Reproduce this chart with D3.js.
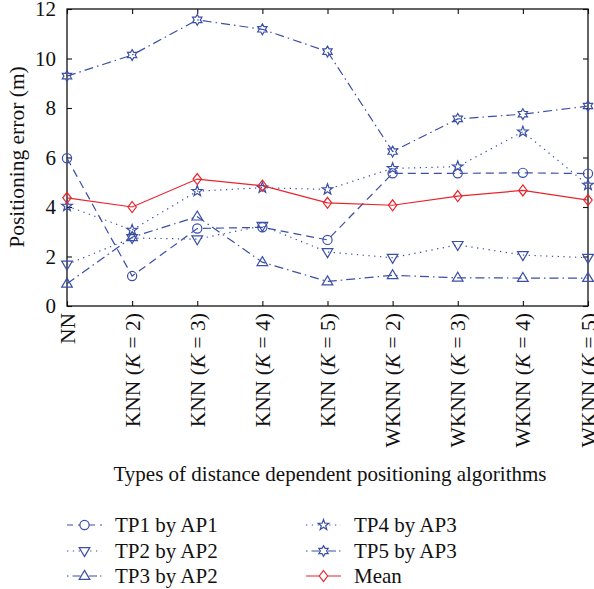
<!DOCTYPE html>
<html>
<head>
<meta charset="utf-8">
<script src="https://cdn.jsdelivr.net/npm/d3@7"></script>
<style>
  html, body { margin: 0; padding: 0; background: #fff; }
  svg text { font-family: "Liberation Serif", "DejaVu Serif", serif; fill: #111; }
</style>
</head>
<body>
<svg id="chart" width="594" height="589"></svg>
<script>
// Positioning algorithms on the x axis
const categories = ["NN", "KNN (K = 2)", "KNN (K = 3)", "KNN (K = 4)", "KNN (K = 5)",
                    "WKNN (K = 2)", "WKNN (K = 3)", "WKNN (K = 4)", "WKNN (K = 5)"];

// Positioning error (m) for each test point
const tp1 = [5.97, 1.21, 3.13, 3.18, 2.67, 5.36, 5.36, 5.38, 5.35];
const tp2 = [1.68, 2.75, 2.70, 3.24, 2.18, 1.95, 2.47, 2.06, 1.95];
const tp3 = [0.90, 2.78, 3.61, 1.77, 0.99, 1.24, 1.14, 1.13, 1.13];
const tp4 = [4.04, 3.07, 4.64, 4.78, 4.71, 5.56, 5.63, 7.04, 4.89];
const tp5 = [9.29, 10.14, 11.56, 11.18, 10.28, 6.24, 7.56, 7.75, 8.08];
const mean = [4.37, 4.00, 5.13, 4.86, 4.17, 4.07, 4.44, 4.67, 4.28];

const yTicks = [0, 2, 4, 6, 8, 10, 12];
const seriesNames = ["TP1 by AP1", "TP2 by AP2", "TP3 by AP2", "TP4 by AP3", "TP5 by AP3", "Mean"];

const blue = "#3b4fa6";
const red = "#e8242b";

const series = [
  { name: seriesNames[0], values: tp1, color: blue, dash: "8,5", legDash: "6,5", marker: "circle" },
  { name: seriesNames[1], values: tp2, color: blue, dash: "1.3,4.5", legDash: "1.3,4.5", marker: "tridown" },
  { name: seriesNames[2], values: tp3, color: blue, dash: "9,4,1.5,4", legDash: "1.5,4,8,3", marker: "triup" },
  { name: seriesNames[3], values: tp4, color: blue, dash: "1.3,4.5", legDash: "1.3,4.5", marker: "pentagram" },
  { name: seriesNames[4], values: tp5, color: blue, dash: "9,4,1.5,4", legDash: "1.5,4,8,3", marker: "hexagram" },
  { name: seriesNames[5], values: mean, color: red, dash: null, legDash: null, marker: "diamond" }
];

const svg = d3.select("#chart");
const plot = { left: 67, right: 588, top: 9, bottom: 306 };
const fs = 21;

const x = d3.scalePoint().domain(categories).range([plot.left, plot.right]);
const y = d3.scaleLinear().domain([0, 12]).range([plot.bottom, plot.top]);

// Marker path generators (centred at 0,0)
function markerPath(type) {
  const p = d3.path();
  if (type === "circle") {
    p.arc(0, 0, 4.6, 0, 2 * Math.PI);
  } else if (type === "triup") {
    const r = 5.6;
    p.moveTo(0, -r); p.lineTo(r * 0.95, r * 0.6); p.lineTo(-r * 0.95, r * 0.6); p.closePath();
  } else if (type === "tridown") {
    const r = 5.6;
    p.moveTo(0, r); p.lineTo(r * 0.95, -r * 0.6); p.lineTo(-r * 0.95, -r * 0.6); p.closePath();
  } else if (type === "diamond") {
    p.moveTo(0, -5.5); p.lineTo(4.2, 0); p.lineTo(0, 5.5); p.lineTo(-4.2, 0); p.closePath();
  } else if (type === "pentagram") {
    const R = 5.6, r = 2.3;
    for (let i = 0; i < 10; i++) {
      const a = -Math.PI / 2 + i * Math.PI / 5;
      const rr = i % 2 === 0 ? R : r;
      const px = rr * Math.cos(a), py = rr * Math.sin(a);
      if (i === 0) p.moveTo(px, py); else p.lineTo(px, py);
    }
    p.closePath();
  } else if (type === "hexagram") {
    const R = 5.4, r = 3.1;
    for (let i = 0; i < 12; i++) {
      const a = -Math.PI / 2 + i * Math.PI / 6;
      const rr = i % 2 === 0 ? R : r;
      const px = rr * Math.cos(a), py = rr * Math.sin(a);
      if (i === 0) p.moveTo(px, py); else p.lineTo(px, py);
    }
    p.closePath();
  }
  return p.toString();
}

// Axes box with inward ticks on all four sides
const axisG = svg.append("g");
const tickLen = 5;

const yAxisL = d3.axisLeft(y).tickValues(yTicks).tickSize(-tickLen).tickPadding(11).tickFormat(d3.format("d"));
const yAxisR = d3.axisRight(y).tickValues(yTicks).tickSize(-tickLen).tickFormat("");
const xAxisB = d3.axisBottom(x).tickSize(-tickLen).tickFormat("");
const xAxisT = d3.axisTop(x).tickSize(-tickLen).tickFormat("");

const gl = axisG.append("g").attr("transform", `translate(${plot.left},0)`).call(yAxisL);
axisG.append("g").attr("transform", `translate(${plot.right},0)`).call(yAxisR);
axisG.append("g").attr("transform", `translate(0,${plot.bottom})`).call(xAxisB);
axisG.append("g").attr("transform", `translate(0,${plot.top})`).call(xAxisT);

axisG.selectAll(".domain").remove();
axisG.selectAll(".tick line").attr("stroke", "#111").attr("stroke-width", 1.1);
gl.selectAll(".tick text")
  .attr("font-size", fs)
  .attr("font-family", "Liberation Serif, DejaVu Serif, serif")
  .attr("fill", "#111");
axisG.append("rect")
  .attr("x", plot.left).attr("y", plot.top)
  .attr("width", plot.right - plot.left).attr("height", plot.bottom - plot.top)
  .attr("fill", "none").attr("stroke", "#111").attr("stroke-width", 1.3);

// Rotated category labels
const catLabels = svg.append("g");
categories.forEach(c => {
  const t = catLabels.append("text")
    .attr("transform", `translate(${x(c) + 7.5},${plot.bottom + 7}) rotate(-90)`)
    .attr("text-anchor", "end")
    .attr("font-size", 21.5);
  const m = c.match(/^(\S+) \((K)( = \d\))$/);
  if (m) {
    t.append("tspan").text(m[1] + " (");
    t.append("tspan").attr("font-style", "italic").text(m[2]);
    t.append("tspan").text(m[3]);
  } else {
    t.text(c);
  }
});

// Axis titles
svg.append("text")
  .attr("x", 330).attr("y", 481)
  .attr("text-anchor", "middle").attr("font-size", fs)
  .text("Types of distance dependent positioning algorithms");
svg.append("text")
  .attr("transform", `translate(24,157) rotate(-90)`)
  .attr("text-anchor", "middle").attr("font-size", 21.5)
  .text("Positioning error (m)");

// Series lines and markers
const line = d3.line().x((d, i) => x(categories[i])).y(d => y(d));
const dataG = svg.append("g");
series.forEach(s => {
  dataG.append("path")
    .attr("d", line(s.values))
    .attr("fill", "none")
    .attr("stroke", s.color)
    .attr("stroke-width", 1.2)
    .attr("stroke-dasharray", s.dash);
});
series.forEach(s => {
  dataG.selectAll(null).data(s.values).enter().append("path")
    .attr("transform", (d, i) => `translate(${x(categories[i])},${y(d)})`)
    .attr("d", markerPath(s.marker))
    .attr("fill", "none")
    .attr("stroke", s.color)
    .attr("stroke-width", 1.2);
});

// Legend in two columns
const legend = svg.append("g");
const legX = [67, 306];
const legY = [525, 551, 576];
series.forEach((s, i) => {
  const col = Math.floor(i / 3), row = i % 3;
  const g = legend.append("g").attr("transform", `translate(${legX[col]},${legY[row]})`);
  g.append("line")
    .attr("x1", 0).attr("x2", 35).attr("y1", 0).attr("y2", 0)
    .attr("stroke", s.color).attr("stroke-width", 1.2)
    .attr("stroke-dasharray", s.legDash);
  g.append("path").attr("transform", "translate(17.5,0)")
    .attr("d", markerPath(s.marker))
    .attr("fill", "#fff")
    .attr("stroke", s.color).attr("stroke-width", 1.2);
  g.append("text").attr("x", 48).attr("y", 7).attr("font-size", fs).text(s.name);
});
</script>
</body>
</html>
